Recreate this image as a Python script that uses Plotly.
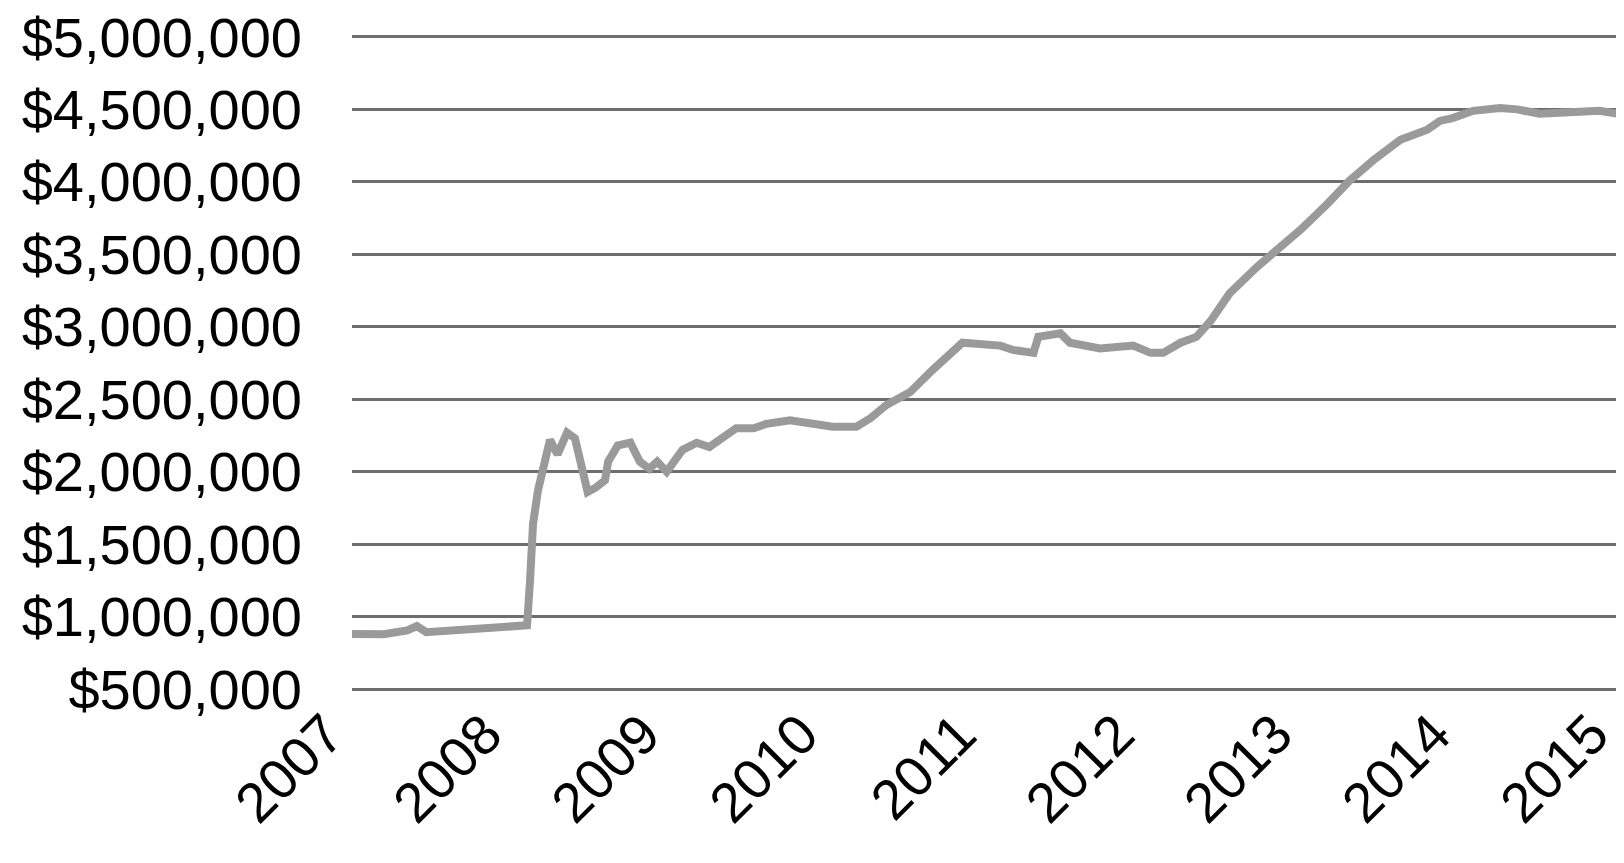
import plotly.graph_objects as go

# Decimal year positions and portfolio values
years = [2007.00, 2007.20, 2007.35, 2007.41, 2007.47, 2007.62, 2007.77, 2007.87, 2007.98,
         2008.075, 2008.107, 2008.126, 2008.145, 2008.176, 2008.22, 2008.252, 2008.30,
         2008.36, 2008.41, 2008.45, 2008.49, 2008.54, 2008.60, 2008.62, 2008.68, 2008.76,
         2008.79, 2008.82, 2008.88, 2008.93, 2008.99, 2009.09, 2009.18, 2009.26, 2009.35,
         2009.43, 2009.54, 2009.62, 2009.77, 2009.88, 2009.98, 2010.04, 2010.19, 2010.28,
         2010.38, 2010.47, 2010.53, 2010.67, 2010.80, 2010.86, 2011.10, 2011.18, 2011.31,
         2011.34, 2011.48, 2011.54, 2011.73, 2011.94, 2012.05, 2012.13, 2012.24, 2012.34,
         2012.43, 2012.55, 2012.72, 2012.87, 2013.00, 2013.17, 2013.31, 2013.46, 2013.63,
         2013.80, 2013.88, 2013.96, 2014.09, 2014.26, 2014.37, 2014.51, 2014.68, 2014.77,
         2014.89, 2015.00]
values = [880000, 878000, 905000, 935000, 893000, 905000, 918000, 915000, 930000,
          935000, 940000, 1250000, 1640000, 1870000, 2060000, 2220000, 2120000,
          2270000, 2230000, 2050000, 1860000, 1890000, 1940000, 2070000, 2180000, 2200000,
          2130000, 2070000, 2020000, 2070000, 2000000, 2150000, 2200000, 2170000, 2240000,
          2300000, 2300000, 2330000, 2355000, 2340000, 2330000, 2310000, 2310000, 2370000,
          2460000, 2510000, 2550000, 2700000, 2820000, 2890000, 2870000, 2840000, 2820000,
          2930000, 2955000, 2890000, 2850000, 2870000, 2820000, 2820000, 2890000, 2930000,
          3040000, 3230000, 3410000, 3550000, 3670000, 3850000, 4010000, 4150000, 4290000,
          4360000, 4420000, 4440000, 4490000, 4510000, 4500000, 4470000, 4480000, 4480000,
          4490000, 4470000]

x_ticks = [2007, 2008, 2009, 2010, 2011, 2012, 2013, 2014, 2015]
x_labels = ["2007", "2008", "2009", "2010", "2011", "2012", "2013", "2014", "2015"]
y_ticks = [500000, 1000000, 1500000, 2000000, 2500000, 3000000, 3500000, 4000000, 4500000, 5000000]
y_labels = ["$500,000", "$1,000,000", "$1,500,000", "$2,000,000", "$2,500,000",
            "$3,000,000", "$3,500,000", "$4,000,000", "$4,500,000", "$5,000,000"]

fig = go.Figure()
fig.add_trace(go.Scatter(
    x=years, y=values, mode="lines",
    line=dict(color="#9a9a9a", width=8),
    showlegend=False, hoverinfo="skip",
))

yfont = dict(family="Liberation Sans, Arial, sans-serif", size=56, color="#000000")
xfont = dict(family="Liberation Sans, Arial, sans-serif", size=56, color="#000000")

fig.update_layout(
    width=1616, height=855,
    margin=dict(l=344, r=7, t=26, b=171, pad=0),
    paper_bgcolor="white", plot_bgcolor="white",
    font=yfont,
    xaxis=dict(
        range=[2007, 2015], tickvals=x_ticks, ticktext=x_labels,
        tickangle=-45, showgrid=False, zeroline=False, showline=False,
        ticks="", tickfont=xfont, ticklabelstandoff=-3, ticklabelshift=-25,
        ticklabeloverflow="allow", automargin=False,
    ),
    yaxis=dict(
        range=[480000, 5020000], tickvals=y_ticks, ticktext=y_labels,
        showgrid=True, gridcolor="#6e6e6e", gridwidth=3,
        zeroline=False, showline=False, ticks="", tickfont=yfont,
        ticklabelstandoff=49, automargin=False, ticklabeloverflow="allow",
    ),
)

fig.write_html("out.html")
